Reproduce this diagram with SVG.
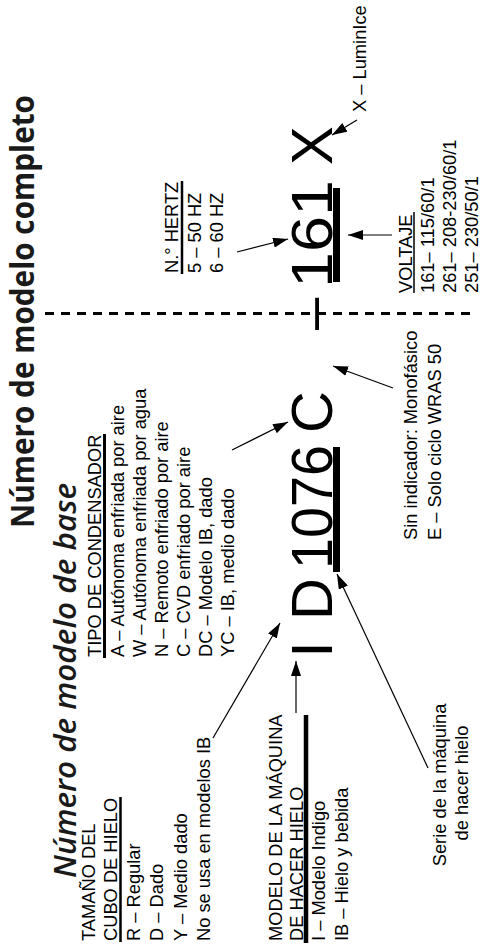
<svg xmlns="http://www.w3.org/2000/svg" width="483" height="944" viewBox="0 0 483 944">
<defs>
<style>
.t{font-family:"Liberation Sans",Arial,sans-serif;font-size:18.3px;fill:#000}
.big{font-family:"Liberation Sans",Arial,sans-serif;font-size:58px;fill:#000}
.h1{font-family:"Open Sans","DejaVu Sans",sans-serif;font-weight:700;font-size:32px;fill:#1a1a1a}
.h2{font-family:"Open Sans","DejaVu Sans",sans-serif;font-weight:600;font-style:italic;font-size:30px;fill:#1a1a1a}
.ul{stroke:#000;fill:none}
.c{stroke:#000;stroke-width:1.2;fill:none;marker-end:url(#ah)}
.dash{stroke:#000;stroke-width:3;stroke-dasharray:9 7;fill:none}
</style>
<marker id="ah" viewBox="0 0 15 10" refX="15" refY="5" markerWidth="15" markerHeight="10" markerUnits="userSpaceOnUse" orient="auto">
<path d="M0,0 L15,5 L0,10 z" fill="#000"/>
</marker>
</defs>
<rect width="483" height="944" fill="#fff"/>

<g id="title">
<text class="h1" transform="translate(34,528) rotate(-90)" textLength="433" lengthAdjust="spacingAndGlyphs">Número de modelo completo</text>
</g>
<g id="subtitle">
<text class="h2" transform="translate(76,878) rotate(-90)" textLength="395" lengthAdjust="spacingAndGlyphs">Número de modelo de base</text>
</g>

<g id="cube-size">
<text class="t" transform="translate(95,941) rotate(-90)">TAMAÑO DEL</text>
<text class="t" transform="translate(117,941) rotate(-90)">CUBO DE HIELO</text>
<line class="ul" x1="120.5" y1="942" x2="120.5" y2="797" stroke-width="2.5"/>
<text class="t" transform="translate(140,941) rotate(-90)">R – Regular</text>
<text class="t" transform="translate(163,941) rotate(-90)">D – Dado</text>
<text class="t" transform="translate(187,941) rotate(-90)">Y – Medio dado</text>
<text class="t" transform="translate(210,941) rotate(-90)">No se usa en modelos IB</text>
</g>

<g id="machine-model">
<text class="t" transform="translate(282,941) rotate(-90)">MODELO DE LA MÁQUINA</text>
<text class="t" transform="translate(303,941) rotate(-90)">DE HACER HIELO</text>
<line class="ul" x1="306" y1="943" x2="306" y2="715" stroke-width="4.5"/>
<text class="t" transform="translate(325,941) rotate(-90)">I – Modelo Indigo</text>
<text class="t" transform="translate(348,941) rotate(-90)">IB – Hielo y bebida</text>
</g>

<g id="condenser-type">
<text class="t" transform="translate(101,657) rotate(-90)">TIPO DE CONDENSADOR</text>
<line class="ul" x1="104.5" y1="658" x2="104.5" y2="434" stroke-width="3"/>
<text class="t" transform="translate(124,657) rotate(-90)">A – Autónoma enfriada por aire</text>
<text class="t" transform="translate(146,657) rotate(-90)">W – Autónoma enfriada por agua</text>
<text class="t" transform="translate(168,657) rotate(-90)">N – Remoto enfriado por aire</text>
<text class="t" transform="translate(190,657) rotate(-90)">C – CVD enfriado por aire</text>
<text class="t" transform="translate(212,657) rotate(-90)">DC – Modelo IB, dado</text>
<text class="t" transform="translate(234,657) rotate(-90)">YC – IB, medio dado</text>
</g>

<g id="hertz">
<text class="t" transform="translate(178,273) rotate(-90)">N.° HERTZ</text>
<line class="ul" x1="182" y1="274" x2="182" y2="181" stroke-width="2.5"/>
<text class="t" transform="translate(201,273) rotate(-90)">5 – 50 HZ</text>
<text class="t" transform="translate(223,273) rotate(-90)">6 – 60 HZ</text>
</g>

<g id="voltage">
<text class="t" transform="translate(412,293) rotate(-90)">VOLTAJE</text>
<line class="ul" x1="414" y1="293" x2="414" y2="212" stroke-width="1.5"/>
<text class="t" transform="translate(434,293) rotate(-90)">161– 115/60/1</text>
<text class="t" transform="translate(456,293) rotate(-90)">261– 208-230/60/1</text>
<text class="t" transform="translate(478,293) rotate(-90)">251– 230/50/1</text>
</g>

<g id="luminice">
<text class="t" transform="translate(366,112) rotate(-90)">X – LuminIce</text>
</g>

<g id="phase">
<text class="t" transform="translate(417,540) rotate(-90)">Sin indicador: Monofásico</text>
<text class="t" transform="translate(441,540) rotate(-90)">E – Solo ciclo WRAS 50</text>
</g>

<g id="series">
<text class="t" text-anchor="middle" transform="translate(446,785) rotate(-90)">Serie de la máquina</text>
<text class="t" text-anchor="middle" transform="translate(468,783) rotate(-90)">de hacer hielo</text>
</g>

<g id="model-number">
<text class="big" transform="translate(332,657.5) rotate(-90)">I</text>
<text class="big" transform="translate(332,620) rotate(-90)">D</text>
<text class="big" transform="translate(332,569) rotate(-90)" textLength="124" lengthAdjust="spacingAndGlyphs">1076</text>
<rect x="333" y="447" width="7" height="125" fill="#000"/>
<text class="big" transform="translate(332,433) rotate(-90)">C</text>
<text class="big" transform="translate(332,330) rotate(-90)">–</text>
<text class="big" transform="translate(332,288) rotate(-90)" textLength="108" lengthAdjust="spacingAndGlyphs">161</text>
<rect x="333" y="188" width="7" height="94" fill="#000"/>
<text class="big" transform="translate(332,165) rotate(-90)">X</text>
</g>

<g id="connectors">
<line class="dash" x1="45" y1="313.5" x2="476" y2="313.5"/>
<line class="c" x1="296" y1="713" x2="296" y2="661"/>
<line class="c" x1="213" y1="738" x2="280" y2="623"/>
<line class="c" x1="428" y1="768" x2="337" y2="574"/>
<line class="c" x1="232" y1="450" x2="288" y2="422"/>
<line class="c" x1="393" y1="388" x2="333" y2="366"/>
<line class="c" x1="237" y1="252" x2="288" y2="239"/>
<line class="c" x1="392" y1="235" x2="348" y2="235"/>
<line class="c" x1="357" y1="120" x2="332" y2="135"/>
</g>
</svg>
